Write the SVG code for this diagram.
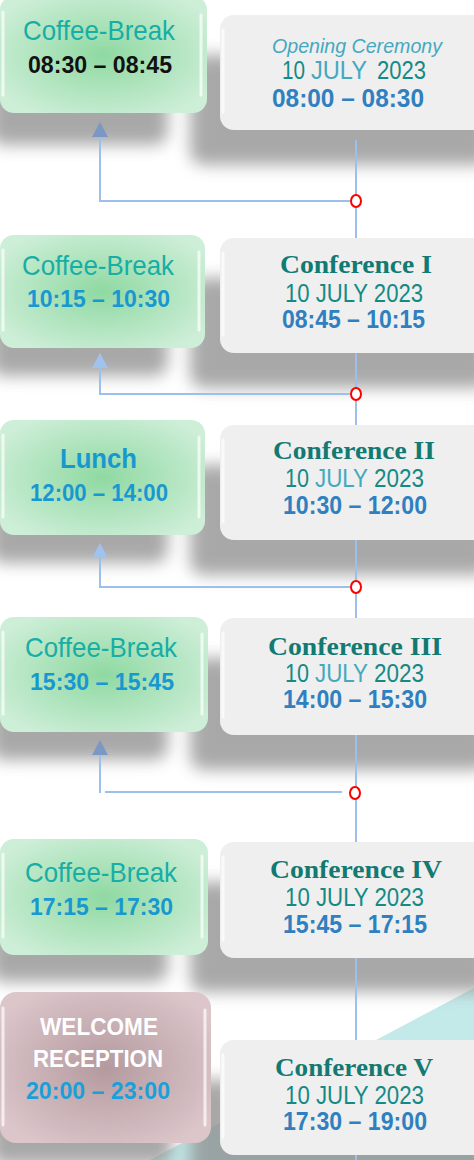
<svg xmlns="http://www.w3.org/2000/svg" width="474" height="1160" viewBox="0 0 474 1160">
<style>
.cb{font-family:"Liberation Sans",Arial,sans-serif;font-size:28px;fill:#16aea6}
.lt{font-family:"Liberation Sans",Arial,sans-serif;font-size:24px;font-weight:bold;fill:#1898d0}
.ct{font-family:"Liberation Serif","Times New Roman",serif;font-size:26px;font-weight:bold;fill:#127a72}
.dt{font-family:"Liberation Sans",Arial,sans-serif;font-size:25px;fill:#148a86}
.jl{font-family:"Liberation Sans",Arial,sans-serif;font-size:25px;fill:#45a8c0}
.rt{font-family:"Liberation Sans",Arial,sans-serif;font-size:25px;font-weight:bold;fill:#2e80c0}
.green{fill:url(#gg)}
.gray{fill:#efefef}
.pink{fill:url(#pg)}
.hl{fill:none;stroke:#ffffff;stroke-width:3;stroke-linecap:round;opacity:0.7}
.sh{fill:#8c8c8c;filter:url(#blur);opacity:0.75}
.conn{fill:none;stroke:#9cbfec;stroke-width:2}
.dot{fill:#ffffff;stroke:#ff0000;stroke-width:2}
.ahd{fill:#7b98c4}
.ahl{fill:#a2c2ee}
</style>
<defs>
<radialGradient id="gg" cx="0.5" cy="0.5" r="0.6">
<stop offset="0" stop-color="#8fd9a2"/>
<stop offset="1" stop-color="#cdeed7"/>
</radialGradient>
<radialGradient id="pg" cx="0.5" cy="0.5" r="0.6">
<stop offset="0" stop-color="#b49a9f"/>
<stop offset="1" stop-color="#dcc6ca"/>
</radialGradient>
<filter id="blur" x="-30%" y="-30%" width="160%" height="160%">
<feGaussianBlur stdDeviation="8"/>
</filter>
</defs>
<rect width="474" height="1160" fill="#ffffff"/>
<polygon points="150,1160 474,988 474,1160" fill="#c4e9e9"/>
<g id="shadows">
<rect class="sh" x="-10" y="33" width="178" height="112" rx="14"/>
<rect class="sh" x="190" y="55" width="300" height="110" rx="14"/>
<rect class="sh" x="-10" y="268" width="178" height="108" rx="14"/>
<rect class="sh" x="190" y="278" width="300" height="110" rx="14"/>
<rect class="sh" x="-10" y="453" width="178" height="110" rx="14"/>
<rect class="sh" x="190" y="465" width="300" height="110" rx="14"/>
<rect class="sh" x="-10" y="650" width="178" height="110" rx="14"/>
<rect class="sh" x="190" y="658" width="300" height="112" rx="14"/>
<rect class="sh" x="-10" y="872" width="178" height="110" rx="14"/>
<rect class="sh" x="190" y="882" width="300" height="110" rx="14"/>
<rect class="sh" x="-10" y="1025" width="182" height="140" rx="14"/>
<rect class="sh" x="190" y="1080" width="300" height="110" rx="14"/>
</g>
<g id="connectors">
<line class="conn" x1="356" y1="140" x2="356" y2="1160" stroke="#8fb0e0"/>
<path class="conn" d="M350,201 H100 V135"/>
<polygon class="ahd" points="100,122 108,137 92,137"/>
<path class="conn" d="M350,394 H100 V366"/>
<polygon class="ahl" points="100,353 108,368 92,368"/>
<path class="conn" d="M350,587 H100 V556"/>
<polygon class="ahl" points="100,543 108,558 92,558"/>
<path class="conn" d="M342,792 H105"/>
<path class="conn" d="M100,793 V753"/>
<polygon class="ahd" points="100,740 108,755 92,755"/>
<ellipse class="dot" cx="356" cy="201" rx="5" ry="6"/>
<ellipse class="dot" cx="356" cy="394" rx="5" ry="6"/>
<ellipse class="dot" cx="356" cy="587" rx="5" ry="6"/>
<ellipse class="dot" cx="355" cy="793" rx="5" ry="6"/>
</g>
<g id="cb1">
<rect class="green" x="0" y="-4" width="207" height="117" rx="14"/>
<path class="hl" d="M3,12 V95 M201,15 V95"/>
<text class="cb" x="23" y="40" textLength="152" lengthAdjust="spacingAndGlyphs">Coffee-Break</text>
<text class="lt" x="28" y="73" textLength="144" lengthAdjust="spacingAndGlyphs" style="fill:#111111">08:30 – 08:45</text>
</g>
<g id="opening">
<rect class="gray" x="220" y="15" width="270" height="115" rx="14"/>
<path class="hl" d="M223,30 V112"/>
<text x="272" y="53" textLength="170" lengthAdjust="spacingAndGlyphs" font-family="Liberation Sans, Arial, sans-serif" font-size="20" font-style="italic" fill="#45a8c0">Opening Ceremony</text>
<text class="dt" x="282" y="79" textLength="23" lengthAdjust="spacingAndGlyphs">10</text>
<text class="jl" x="311" y="79" textLength="56" lengthAdjust="spacingAndGlyphs">JULY</text>
<text class="dt" x="377" y="79" textLength="49" lengthAdjust="spacingAndGlyphs">2023</text>
<text class="rt" x="272" y="107" textLength="152" lengthAdjust="spacingAndGlyphs">08:00 – 08:30</text>
</g>
<g id="cb2">
<rect class="green" x="0" y="235" width="205" height="113" rx="14"/>
<path class="hl" d="M3,250 V330 M199,252 V330"/>
<text class="cb" x="22" y="275" textLength="152" lengthAdjust="spacingAndGlyphs">Coffee-Break</text>
<text class="lt" x="27" y="307" textLength="143" lengthAdjust="spacingAndGlyphs">10:15 – 10:30</text>
</g>
<g id="conf1">
<rect class="gray" x="220" y="238" width="270" height="115" rx="14"/>
<path class="hl" d="M223,253 V335"/>
<text class="ct" x="280" y="273" textLength="152" lengthAdjust="spacingAndGlyphs">Conference I</text>
<text class="dt" x="285" y="302" textLength="138" lengthAdjust="spacingAndGlyphs">10 JULY 2023</text>
<text class="rt" x="282" y="328" textLength="143" lengthAdjust="spacingAndGlyphs">08:45 – 10:15</text>
</g>
<g id="lunch">
<rect class="green" x="0" y="420" width="205" height="115" rx="14"/>
<path class="hl" d="M3,435 V517 M199,437 V517"/>
<text class="lt" x="60" y="468" textLength="77" lengthAdjust="spacingAndGlyphs" style="font-size:28px">Lunch</text>
<text class="lt" x="30" y="501" textLength="138" lengthAdjust="spacingAndGlyphs">12:00 – 14:00</text>
</g>
<g id="conf2">
<rect class="gray" x="220" y="425" width="270" height="115" rx="14"/>
<path class="hl" d="M223,440 V522"/>
<text class="ct" x="273" y="459" textLength="162" lengthAdjust="spacingAndGlyphs">Conference II</text>
<text class="dt" x="285" y="487" textLength="24" lengthAdjust="spacingAndGlyphs">10</text>
<text class="jl" x="315" y="487" textLength="53" lengthAdjust="spacingAndGlyphs">JULY</text>
<text class="dt" x="374" y="487" textLength="50" lengthAdjust="spacingAndGlyphs">2023</text>
<text class="rt" x="283" y="514" textLength="144" lengthAdjust="spacingAndGlyphs">10:30 – 12:00</text>
</g>
<g id="cb3">
<rect class="green" x="0" y="617" width="208" height="115" rx="14"/>
<path class="hl" d="M3,632 V714 M202,634 V714"/>
<text class="cb" x="25" y="657" textLength="152" lengthAdjust="spacingAndGlyphs">Coffee-Break</text>
<text class="lt" x="30" y="690" textLength="144" lengthAdjust="spacingAndGlyphs">15:30 – 15:45</text>
</g>
<g id="conf3">
<rect class="gray" x="220" y="618" width="270" height="117" rx="14"/>
<path class="hl" d="M223,633 V717"/>
<text class="ct" x="268" y="655" textLength="174" lengthAdjust="spacingAndGlyphs">Conference III</text>
<text class="dt" x="285" y="682" textLength="24" lengthAdjust="spacingAndGlyphs">10</text>
<text class="jl" x="315" y="682" textLength="53" lengthAdjust="spacingAndGlyphs">JULY</text>
<text class="dt" x="374" y="682" textLength="50" lengthAdjust="spacingAndGlyphs">2023</text>
<text class="rt" x="283" y="708" textLength="144" lengthAdjust="spacingAndGlyphs">14:00 – 15:30</text>
</g>
<g id="cb4">
<rect class="green" x="0" y="839" width="208" height="116" rx="14"/>
<path class="hl" d="M3,854 V937 M202,856 V937"/>
<text class="cb" x="25" y="882" textLength="152" lengthAdjust="spacingAndGlyphs">Coffee-Break</text>
<text class="lt" x="30" y="915" textLength="143" lengthAdjust="spacingAndGlyphs">17:15 – 17:30</text>
</g>
<g id="conf4">
<rect class="gray" x="220" y="842" width="270" height="116" rx="14"/>
<path class="hl" d="M223,857 V940"/>
<text class="ct" x="270" y="878" textLength="172" lengthAdjust="spacingAndGlyphs">Conference IV</text>
<text class="dt" x="285" y="906" textLength="139" lengthAdjust="spacingAndGlyphs">10 JULY 2023</text>
<text class="rt" x="283" y="933" textLength="144" lengthAdjust="spacingAndGlyphs">15:45 – 17:15</text>
</g>
<g id="welcome">
<rect class="pink" x="0" y="992" width="211" height="151" rx="16"/>
<path class="hl" d="M3,1008 V1125 M205,1010 V1125"/>
<text class="lt" x="40" y="1035" textLength="118" lengthAdjust="spacingAndGlyphs" style="fill:#ffffff">WELCOME</text>
<text class="lt" x="33" y="1067" textLength="130" lengthAdjust="spacingAndGlyphs" style="fill:#ffffff">RECEPTION</text>
<text class="lt" x="26" y="1099" textLength="144" lengthAdjust="spacingAndGlyphs" style="fill:#1aa0d8">20:00 – 23:00</text>
</g>
<g id="conf5">
<rect class="gray" x="220" y="1040" width="270" height="115" rx="14"/>
<path class="hl" d="M223,1055 V1137"/>
<text class="ct" x="275" y="1076" textLength="158" lengthAdjust="spacingAndGlyphs">Conference V</text>
<text class="dt" x="285" y="1104" textLength="139" lengthAdjust="spacingAndGlyphs">10 JULY 2023</text>
<text class="rt" x="283" y="1130" textLength="144" lengthAdjust="spacingAndGlyphs">17:30 – 19:00</text>
</g>
</svg>
